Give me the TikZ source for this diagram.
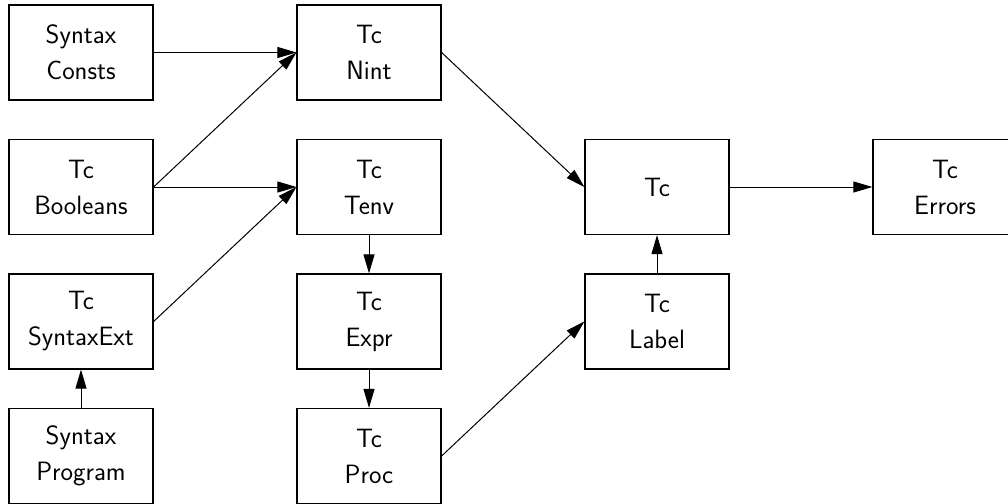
\documentclass[tikz,border=0pt]{standalone}
\usetikzlibrary{arrows.meta}
\begin{document}
\begin{tikzpicture}[x=1pt,y=-1pt,
  module/.style={draw, line width=1.2pt, minimum width=144pt, minimum height=95pt,
    inner sep=0pt, align=center, font=\sffamily\fontsize{26.5}{36}\selectfont},
  dep/.style={line width=1pt, -{Triangle[length=19pt,width=11pt]}}]
\useasboundingbox (0,0) rectangle (1008,503);
% column centres 81, 369, 657, 945; row centres 52.5, 187, 321.5, 456
\node[module] (consts)  at (81,52.5)  {Syntax\\Consts};
\node[module] (bools)   at (81,187)   {Tc\\Booleans};
\node[module] (synext)  at (81,321.5) {Tc\\SyntaxExt};
\node[module] (program) at (81,456)   {Syntax\\Program};
\node[module] (nint)    at (369,52.5)  {Tc\\Nint};
\node[module] (tenv)    at (369,187)   {Tc\\Tenv};
\node[module] (expr)    at (369,321.5) {Tc\\Expr};
\node[module] (proc)    at (369,456)   {Tc\\Proc};
\node[module] (tc)      at (657,187)   {Tc};
\node[module] (label)   at (657,321.5) {Tc\\Label};
\node[module] (errors)  at (945,187)   {Tc\\Errors};
\draw[dep] (consts.east) -- (nint.west);
\draw[dep] (bools.east) -- (nint.west);
\draw[dep] (bools.east) -- (tenv.west);
\draw[dep] (synext.east) -- (tenv.west);
\draw[dep] (program.north) -- (synext.south);
\draw[dep] (tenv.south) -- (expr.north);
\draw[dep] (expr.south) -- (proc.north);
\draw[dep] (nint.east) -- (tc.west);
\draw[dep] (proc.east) -- (label.west);
\draw[dep] (label.north) -- (tc.south);
\draw[dep] (tc.east) -- (errors.west);
\end{tikzpicture}
\end{document}
